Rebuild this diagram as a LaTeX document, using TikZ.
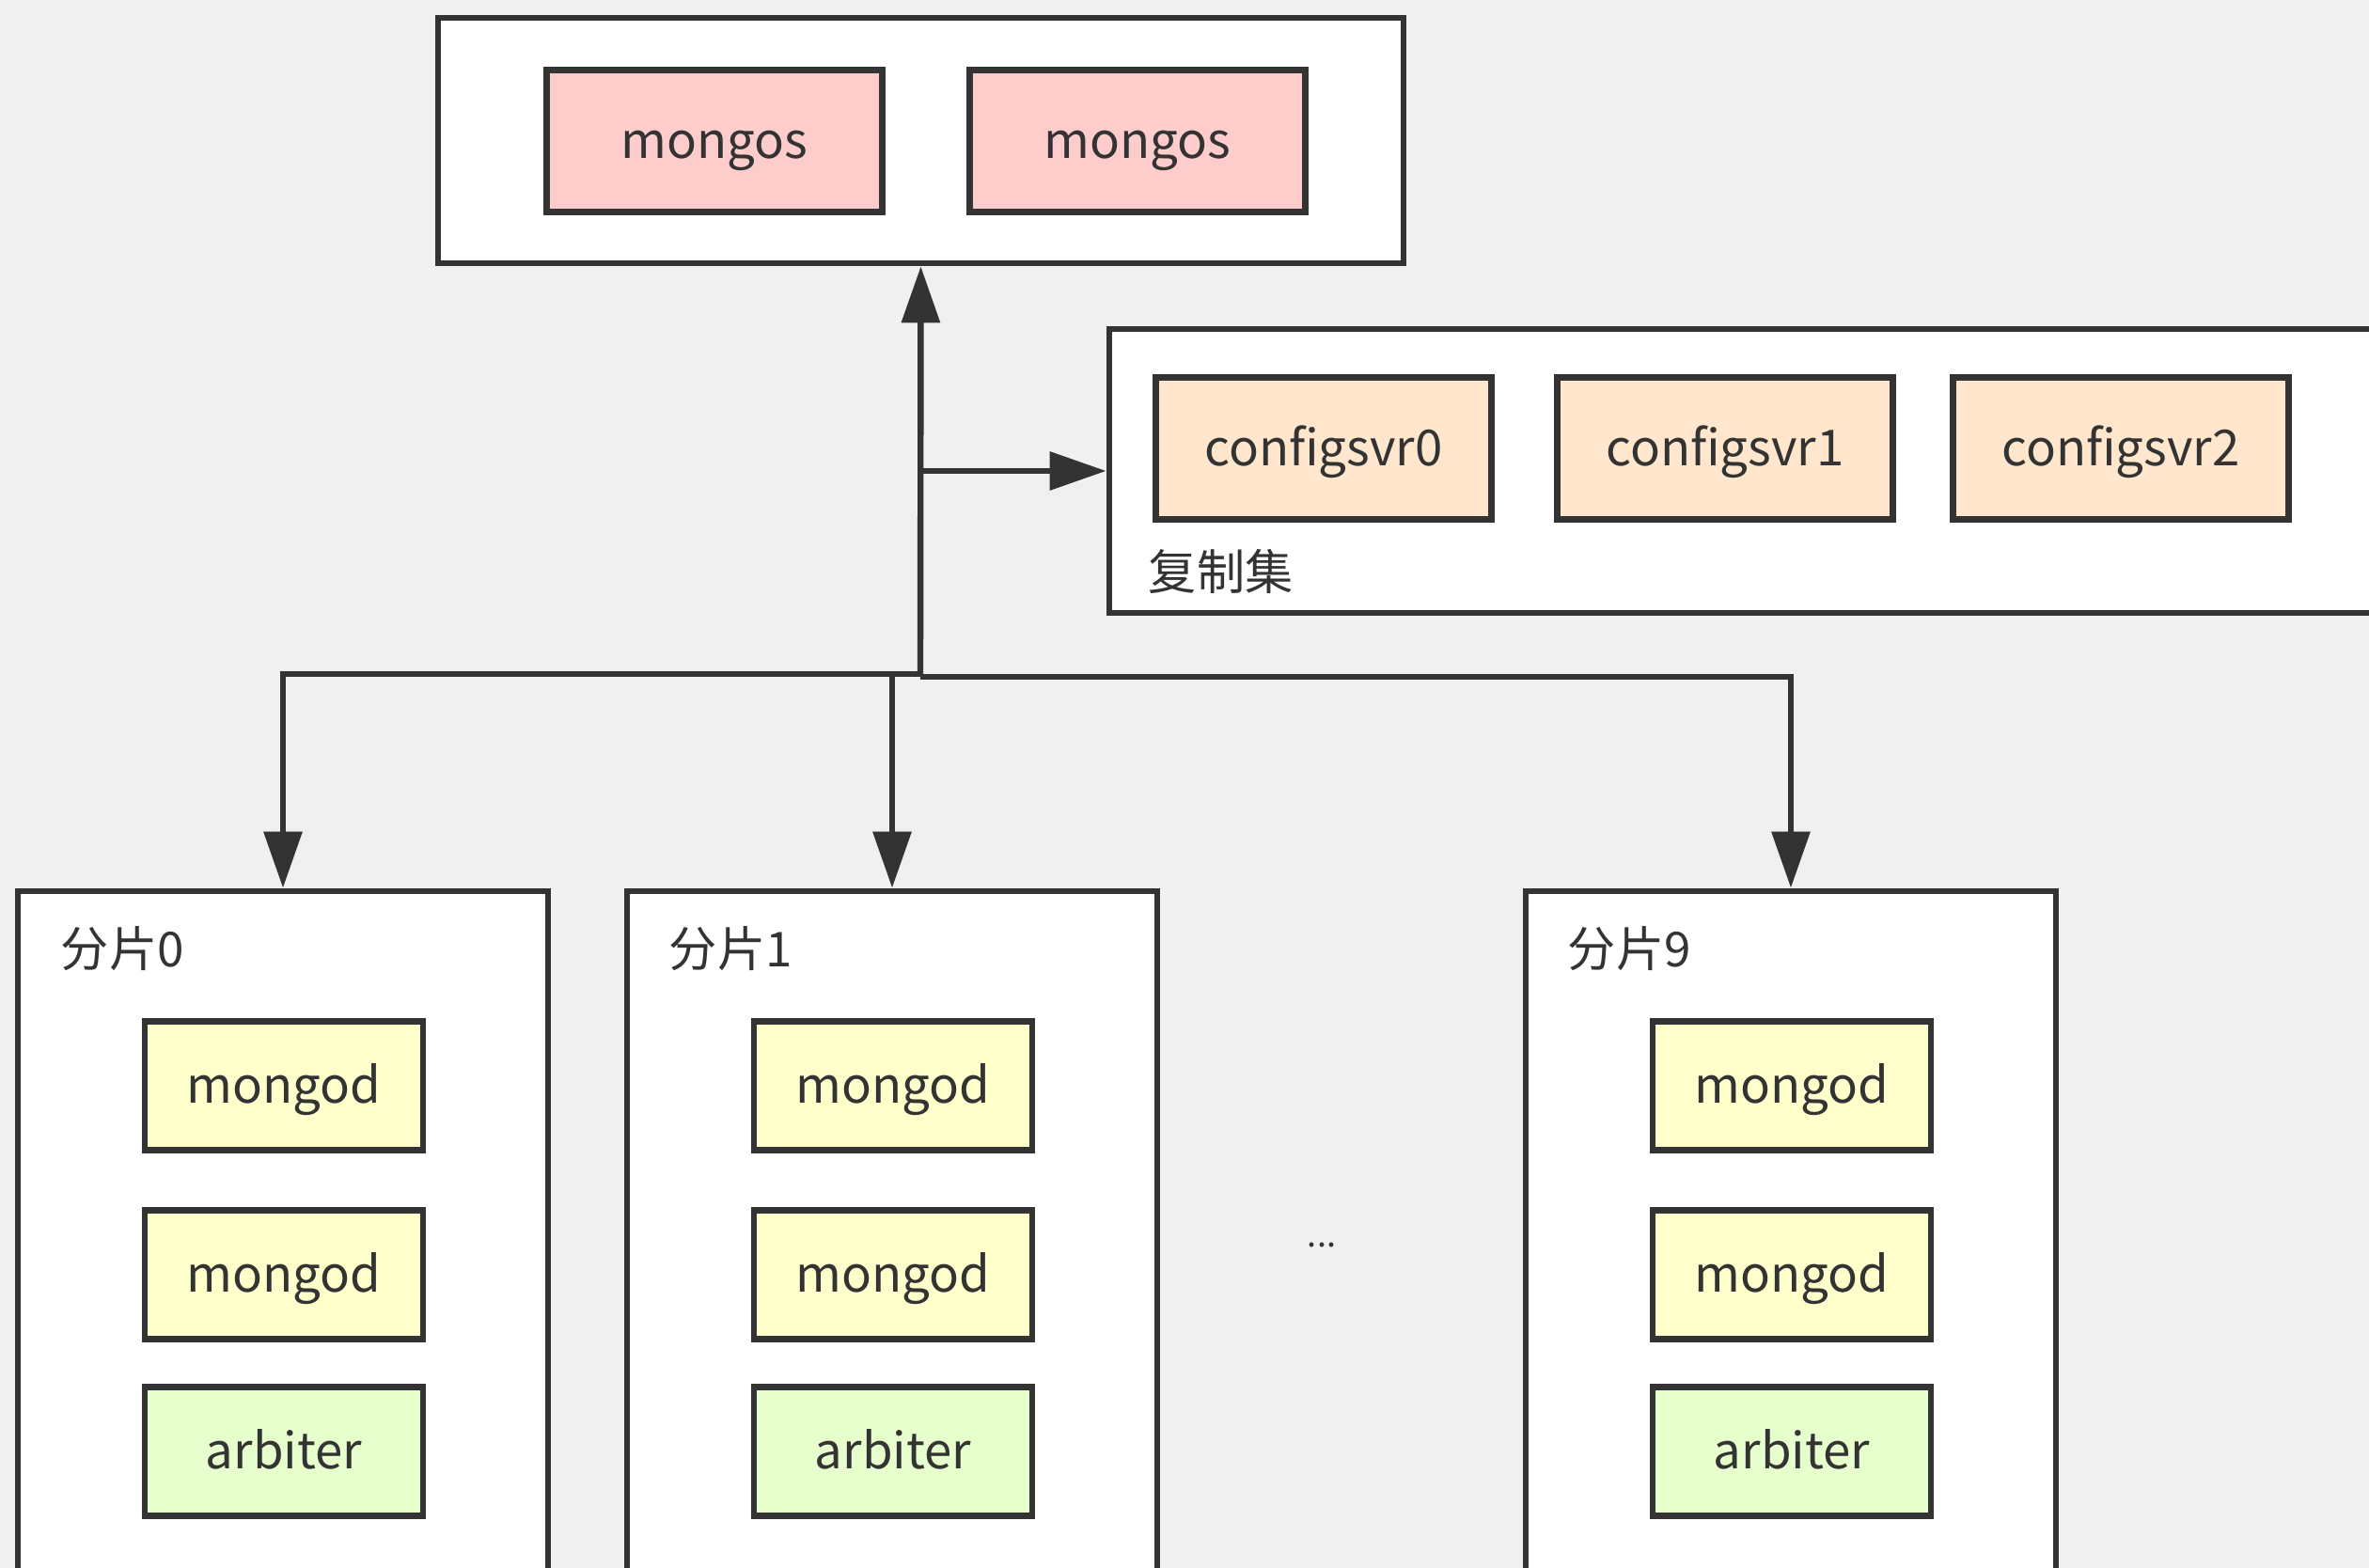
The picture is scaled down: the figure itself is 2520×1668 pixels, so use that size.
\documentclass[tikz,border=0pt]{standalone}
\usepackage{fontspec}
\setmainfont{Noto Sans CJK SC}
\usetikzlibrary{arrows.meta,calc}

\definecolor{bg}{HTML}{F0F0F0}
\definecolor{ink}{HTML}{333333}
\definecolor{mongosfill}{HTML}{FFCCCC}
\definecolor{cfgfill}{HTML}{FFE6CC}
\definecolor{mongodfill}{HTML}{FFFFCC}
\definecolor{arbfill}{HTML}{E6FFCC}

\tikzset{
  base/.style={draw=ink, line width=1.7pt, rectangle, inner sep=0pt, text=ink,
    font=\fontsize{13.2}{15}\selectfont, text height=1.12em, text depth=0.2em},
  group/.style={base, fill=white},
  mongosbox/.style={base, fill=mongosfill, minimum width=89.25pt, minimum height=37.75pt},
  cfgbox/.style={base, fill=cfgfill, minimum width=89.25pt, minimum height=37.75pt},
  mongodbox/.style={base, fill=mongodfill, minimum width=74pt, minimum height=34.25pt},
  arbbox/.style={base, fill=arbfill, minimum width=74pt, minimum height=34.25pt},
  shardbox/.style={group, minimum width=141pt, minimum height=188pt},
  caption/.style={text=ink, inner sep=0pt, anchor=west, font=\fontsize{12.8}{15}\selectfont},
  link/.style={draw=ink, line width=1.6pt, -{Triangle[length=15pt,width=10pt]}},
}

\begin{document}
\begin{tikzpicture}[x=0.25pt, y=-0.25pt]
  \useasboundingbox (0,0) rectangle (2520,1668);
  \fill[bg] (0,0) rectangle (2520,1668);
  \clip (0,0) rectangle (2520,1668);

  % router tier
  \node[group, minimum width=256.75pt, minimum height=65.25pt] (routers) at (979.5,149.5) {};
  \node[mongosbox] (mongos1) at (760,150) {mongos};
  \node[mongosbox] (mongos2) at (1210,150) {mongos};

  % config server replica set
  \node[group, minimum width=355pt, minimum height=75.5pt] (cfg) at (1890,501) {};
  \node[cfgbox] (cfg0) at (1408,477) {configsvr0};
  \node[cfgbox] (cfg1) at (1835,477) {configsvr1};
  \node[cfgbox] (cfg2) at (2256,477) {configsvr2};
  \node[caption] (cfglabel) at (1221,608) {复制集};

  % shards
  \node[shardbox] (shard0) at (301,1324) {};
  \node[shardbox] (shard1) at (949,1324) {};
  \node[shardbox] (shard9) at (1905,1324) {};

  \node[caption] (s0label) at (64,1009) {分片0};
  \node[caption] (s1label) at (711,1009) {分片1};
  \node[caption] (s9label) at (1667,1009) {分片9};

  \node[mongodbox] (s0a) at (302,1155) {mongod};
  \node[mongodbox] (s0b) at (302,1356) {mongod};
  \node[arbbox]    (s0c) at (302,1544) {arbiter};

  \node[mongodbox] (s1a) at (950,1155) {mongod};
  \node[mongodbox] (s1b) at (950,1356) {mongod};
  \node[arbbox]    (s1c) at (950,1544) {arbiter};

  \node[mongodbox] (s9a) at (1906,1155) {mongod};
  \node[mongodbox] (s9b) at (1906,1356) {mongod};
  \node[arbbox]    (s9c) at (1906,1544) {arbiter};

  \node[text=ink, inner sep=0pt, font=\fontsize{9}{10}\selectfont] (gap) at (1406,1324) {...};

  % connectors
  \coordinate (bus) at (979,717);
  \draw[link] (bus) -- (routers.south);
  \draw[link] (bus |- cfg.west) -- (cfg.west);
  \draw[link] (bus) -| (shard0.north);
  \draw[link] (bus) -| (shard1.north);
  \draw[link] ($(bus)+(0,3)$) -| (shard9.north);
\end{tikzpicture}
\end{document}
